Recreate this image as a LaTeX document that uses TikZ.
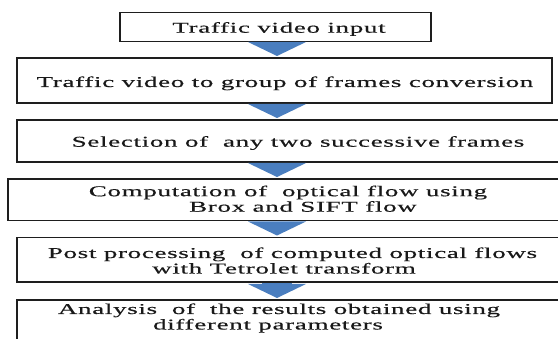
\documentclass[tikz,border=0pt]{standalone}
\usepackage{fontspec}
\usetikzlibrary{arrows.meta}
\newfontfamily\boxfont[FakeStretch=1.8,LetterSpace=4.5,FakeBold=0.4]{Liberation Serif}
\definecolor{arrowblue}{HTML}{4A7EBF}
\definecolor{boxline}{HTML}{1E1E1E}
\begin{document}
\begin{tikzpicture}[x=1pt,y=-1pt,
  stepbox/.style={draw=boxline,line width=1.6pt,fill=white,inner sep=0pt,outer sep=0pt},
  lbl/.style={font=\boxfont\fontsize{15}{15.5}\selectfont,inner sep=0pt,outer sep=0pt,anchor=base,align=center,text=black!90},
  flow/.style={draw=arrowblue,line width=30pt,shorten <=1pt,
    -{Triangle[width=58pt,length=14pt,line width=0pt]}}]
\clip (0,0) rectangle (558,339);
\fill[white] (0,0) rectangle (558,339);
% boxes
\node[stepbox,minimum width=311pt,minimum height=29pt] (b1) at (275.5,27.2) {};
\node[stepbox,minimum width=535pt,minimum height=45pt] (b2) at (284.5,80.5) {};
\node[stepbox,minimum width=563pt,minimum height=42pt] (b3) at (298.5,141) {};
\node[stepbox,minimum width=574pt,minimum height=41.5pt] (b4) at (295,199.75) {};
\node[stepbox,minimum width=558pt,minimum height=44.5pt] (b5) at (296,259.75) {};
\node[stepbox,minimum width=558pt,minimum height=50pt] (b6) at (296,325) {};
% labels (base = baseline of the last line)
\node[lbl] (t1) at (279,32.7) {Traffic video input};
\node[lbl] (t2) at (285,87) {Traffic video to group of frames conversion};
\node[lbl] (t3) at (298,146.7) {Selection of\ \ any two successive frames};
\node[lbl] (t4) at (288,211.7) {Computation of\ \ optical flow using\\\hspace*{30pt}Brox and SIFT flow};
\node[lbl] (t5) at (292.5,273.5) {Post processing\ \ of computed optical flows\\\hspace*{-17pt}with Tetrolet transform};
\node[lbl] (t6) at (279,329.5) {Analysis\ \ of\ \ the results obtained using\\\hspace*{-22pt}different parameters};
% arrows
\coordinate (ax) at (277,0);
\draw[flow] (ax |- b1.south) -- ([yshift=2pt]ax |- b2.north);
\draw[flow] (ax |- b2.south) -- ([yshift=2pt]ax |- b3.north);
\draw[flow] (ax |- b3.south) -- ([yshift=2pt]ax |- b4.north);
\draw[flow] (ax |- b4.south) -- ([yshift=2pt]ax |- b5.north);
\draw[flow] (ax |- b5.south) -- ([yshift=2pt]ax |- b6.north);
\end{tikzpicture}
\end{document}
